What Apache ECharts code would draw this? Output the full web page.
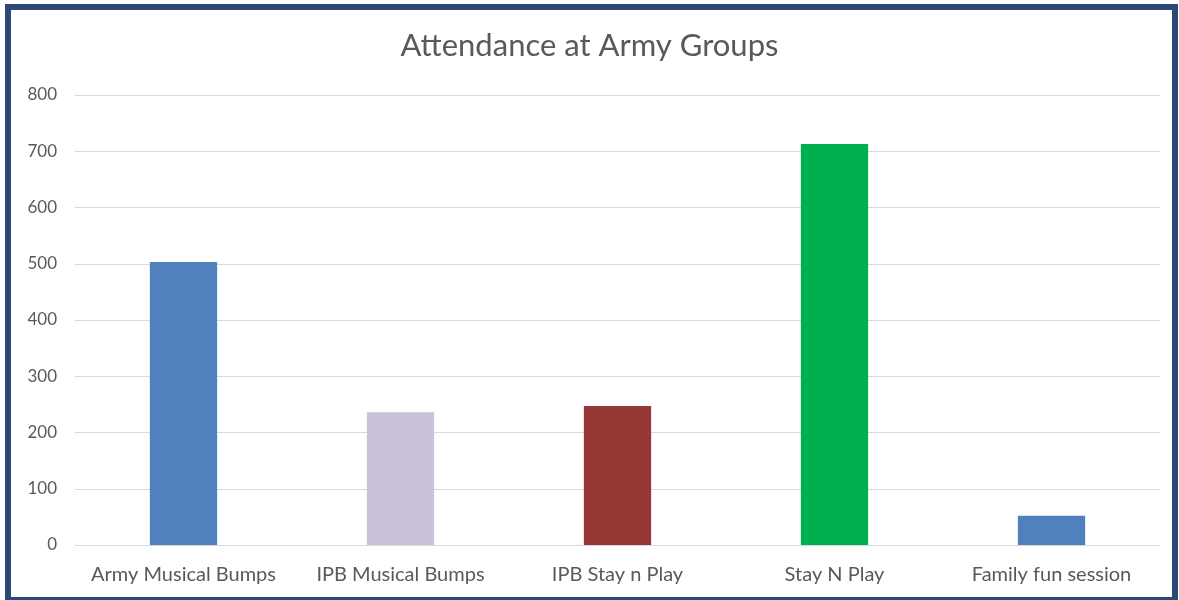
<!DOCTYPE html>
<html>
<head>
<meta charset="utf-8">
<script src="https://cdn.jsdelivr.net/npm/echarts@6/dist/echarts.min.js"></script>
<style>
  html, body { margin: 0; padding: 0; background: #fff; }
  #wrap { position: relative; width: 1179px; height: 600px; overflow: hidden; }
  #chart { position: absolute; left: 0; top: 0; width: 1179px; height: 600px; }
  #frame {
    position: absolute; left: 5px; top: 4px; width: 1161px; height: 587px;
    border: 6px solid #2B4B76; border-bottom-width: 3px; pointer-events: none;
  }
</style>
</head>
<body>
<div id="wrap">
  <div id="chart"></div>
  <div id="frame"></div>
</div>
<script>
var categories = ["Army Musical Bumps", "IPB Musical Bumps", "IPB Stay n Play", "Stay N Play", "Family fun session"];
var attendance = [503, 236, 247, 713, 52];
var barColors = ["#4F81BD", "#CAC1DA", "#953735", "#00B050", "#4F81BD"];

var thisChart = echarts.init(document.getElementById("chart"));
thisChart.setOption({
  animation: false,
  title: {
    text: "Attendance at Army Groups",
    left: "center",
    top: 25,
    textStyle: {
      fontFamily: "Lato",
      fontSize: 31,
      fontWeight: "normal",
      color: "#595959"
    }
  },
  grid: {
    left: 75,
    right: 19,
    top: 95,
    bottom: 55
  },
  xAxis: {
    type: "category",
    data: categories,
    axisLine: {
      lineStyle: { color: "#D9D9D9" }
    },
    axisTick: { show: false },
    axisLabel: {
      interval: 0,
      margin: 20,
      fontFamily: "Lato",
      fontSize: 20,
      color: "#595959"
    }
  },
  yAxis: {
    type: "value",
    min: 0,
    max: 800,
    interval: 100,
    axisLine: { show: false },
    axisTick: { show: false },
    axisLabel: {
      margin: 18,
      fontFamily: "Lato",
      fontSize: 17,
      color: "#595959"
    },
    splitLine: {
      lineStyle: { color: "#D9D9D9" }
    }
  },
  series: [
    {
      type: "bar",
      barWidth: "31%",
      data: attendance.map(function (v, i) {
        return { value: v, itemStyle: { color: barColors[i] } };
      })
    }
  ]
});
</script>
</body>
</html>
